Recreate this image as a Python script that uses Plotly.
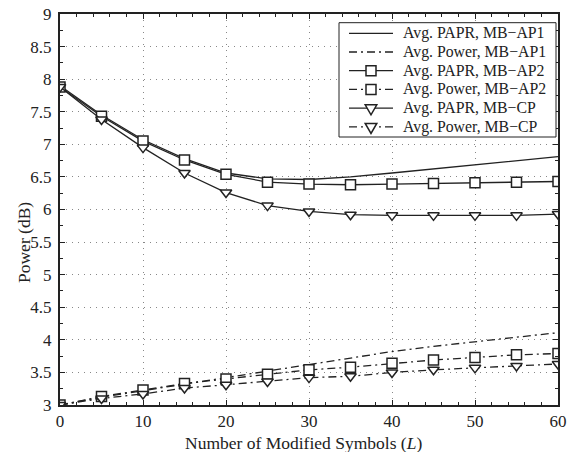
import plotly.graph_objects as go

L = [0, 5, 10, 15, 20, 25, 30, 35, 40, 45, 50, 55, 60]
papr_ap1 = [7.90, 7.45, 7.07, 6.78, 6.56, 6.47, 6.46, 6.50, 6.56, 6.62, 6.68, 6.74, 6.81]
power_ap1 = [3.00, 3.12, 3.22, 3.32, 3.42, 3.52, 3.63, 3.73, 3.82, 3.90, 3.97, 4.04, 4.11]
papr_ap2 = [7.88, 7.43, 7.05, 6.76, 6.54, 6.42, 6.39, 6.38, 6.39, 6.40, 6.41, 6.42, 6.43]
power_ap2 = [3.00, 3.13, 3.23, 3.33, 3.40, 3.47, 3.54, 3.58, 3.64, 3.69, 3.73, 3.77, 3.79]
papr_cp = [7.88, 7.38, 6.95, 6.56, 6.26, 6.06, 5.97, 5.92, 5.91, 5.91, 5.91, 5.91, 5.93]
power_cp = [3.00, 3.10, 3.17, 3.26, 3.31, 3.36, 3.42, 3.44, 3.50, 3.54, 3.57, 3.60, 3.63]

names = ["Avg. PAPR, MB\u2212AP1", "Avg. Power, MB\u2212AP1",
         "Avg. PAPR, MB\u2212AP2", "Avg. Power, MB\u2212AP2",
         "Avg. PAPR, MB\u2212CP", "Avg. Power, MB\u2212CP"]

FONT = "Liberation Serif, Times New Roman, serif"
INK = "#222222"
DASHDOT = "8px,4px,2px,4px"
W, H = 577, 452
ML, MR, MT, MB = 60, 19, 14, 47
PW, PH = W - ML - MR, H - MT - MB

fig = go.Figure()
series = [
    (papr_ap1, names[0], "solid", None),
    (power_ap1, names[1], DASHDOT, None),
    (papr_ap2, names[2], "solid", "square"),
    (power_ap2, names[3], DASHDOT, "square"),
    (papr_cp, names[4], "solid", "triangle-down"),
    (power_cp, names[5], DASHDOT, "triangle-down"),
]
for y, name, dash, symbol in series:
    fig.add_trace(go.Scatter(
        x=L, y=y, name=name, mode="lines" if symbol is None else "lines+markers",
        line=dict(color=INK, width=1.3, dash=dash),
        marker=dict(symbol=symbol or "circle", size=10, color="white",
                    line=dict(color=INK, width=1.5)),
        showlegend=False,
    ))

axis_common = dict(
    showline=True, linecolor=INK, linewidth=2, mirror="allticks",
    ticks="inside", ticklen=5, tickwidth=1, tickcolor=INK,
    showgrid=True, gridcolor="#888888", griddash="1px,5px", gridwidth=1,
    zeroline=False, automargin=False,
    tickfont=dict(family=FONT, size=17, color=INK),
)
fig.update_xaxes(
    range=[0, 60], tickvals=[0, 10, 20, 30, 40, 50, 60],
    minor=dict(dtick=2, ticks="inside", ticklen=3, tickcolor=INK, showgrid=False),
    ticklabelstandoff=0,
    **axis_common,
)
fig.update_yaxes(
    range=[3, 9], tickvals=[3, 3.5, 4, 4.5, 5, 5.5, 6, 6.5, 7, 7.5, 8, 8.5, 9],
    minor=dict(dtick=0.25, ticks="inside", ticklen=3, tickcolor=INK, showgrid=False),
    ticklabelstandoff=3,
    **axis_common,
)


def px_x(p):
    return (p - ML) / PW


def px_y(p):
    return (H - MB - p) / PH


# axis titles
fig.add_annotation(text="Power (dB)", xref="paper", yref="paper",
                   x=px_x(24), y=px_y(243), xanchor="center", yanchor="middle",
                   showarrow=False, textangle=-90,
                   font=dict(family=FONT, size=17.5, color=INK))
fig.add_annotation(text="Number of Modified Symbols (<i>L</i>)", xref="paper", yref="paper",
                   x=px_x(303), y=px_y(442.5), xanchor="center", yanchor="middle",
                   showarrow=False, borderpad=0,
                   font=dict(family=FONT, size=17.5, color=INK))

# Legend box drawn in the MATLAB style
LEG_L, LEG_R, LEG_T, LEG_B = 339, 556, 22.7, 137
ROW0, ROW_STEP = 33.3, 18.7
SAMPLE_L, SAMPLE_R, TEXT_L = 349, 393, 402
fig.add_shape(type="rect", xref="paper", yref="paper",
              x0=px_x(LEG_L), x1=px_x(LEG_R), y0=px_y(LEG_B), y1=px_y(LEG_T),
              fillcolor="white", line=dict(color=INK, width=1))
cx = px_x((SAMPLE_L + SAMPLE_R) / 2)
for i, (y, name, dash, symbol) in enumerate(series):
    ry = px_y(ROW0 + i * ROW_STEP)
    fig.add_shape(type="line", xref="paper", yref="paper",
                  x0=px_x(SAMPLE_L), x1=px_x(SAMPLE_R), y0=ry, y1=ry,
                  line=dict(color=INK, width=1.3, dash=dash))
    if symbol == "square":
        fig.add_shape(type="rect", xref="paper", yref="paper",
                      xsizemode="pixel", ysizemode="pixel", xanchor=cx, yanchor=ry,
                      x0=-5, x1=5, y0=-5, y1=5,
                      fillcolor="white", line=dict(color=INK, width=1.5))
    elif symbol == "triangle-down":
        fig.add_shape(type="path", xref="paper", yref="paper",
                      xsizemode="pixel", ysizemode="pixel", xanchor=cx, yanchor=ry,
                      path="M -5.8 3.3 L 5.8 3.3 L 0 -6.7 Z",
                      fillcolor="white", line=dict(color=INK, width=1.5))
    fig.add_annotation(text=name, xref="paper", yref="paper",
                       x=px_x(TEXT_L), y=ry, xanchor="left", yanchor="middle",
                       showarrow=False, borderpad=0,
                       font=dict(family=FONT, size=15.8, color=INK))

fig.update_layout(
    width=W, height=H,
    margin=dict(l=ML, r=MR, t=MT, b=MB),
    paper_bgcolor="white", plot_bgcolor="white",
    font=dict(family=FONT, size=16, color=INK),
    showlegend=False,
)

fig.write_html("out.html")
